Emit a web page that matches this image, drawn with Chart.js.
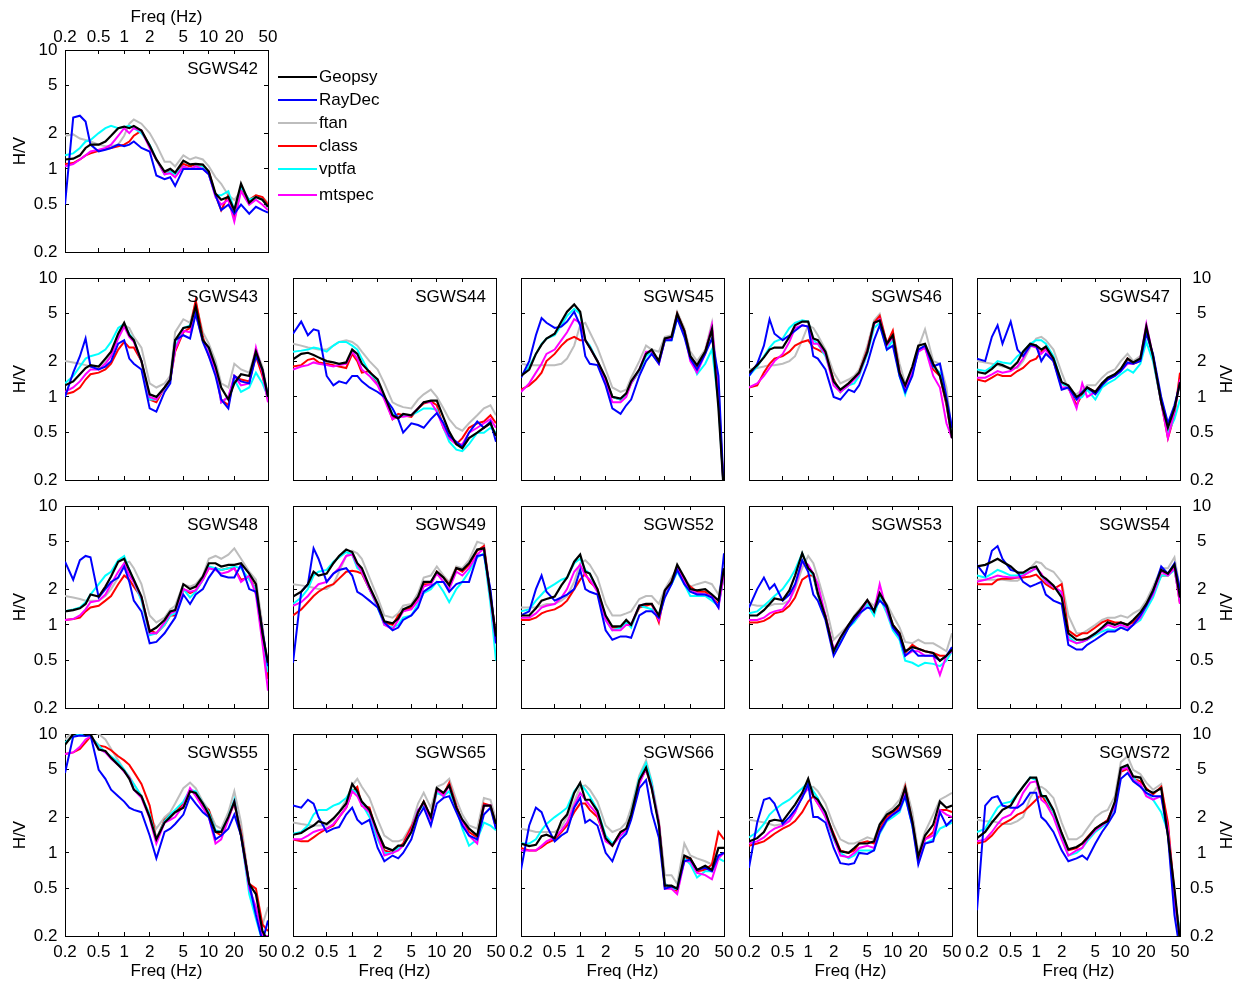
<!DOCTYPE html>
<html>
<head>
<meta charset="utf-8">
<title>H/V spectral ratios</title>
<script src="https://cdn.jsdelivr.net/npm/chart.js@4.4.1/dist/chart.umd.min.js"></script>
<style>
  body { margin: 0; background: #fff; }
  #page { position: relative; width: 1243px; height: 985px; overflow: hidden;
          font-family: "Liberation Sans", Arial, Helvetica, sans-serif; }
  #page canvas { position: absolute; }
  .swatch { position: absolute; width: 39px; height: 2px; }
  .legtext { position: absolute; font-size: 17px; line-height: 20px; color: #000; white-space: nowrap; }
</style>
</head>
<body>
<div id="page"></div>
<script>
// frequencies (Hz) shared by every curve
const freqs = [0.2,0.25,0.3,0.35,0.4,0.5,0.6,0.7, 0.85,1,1.15,1.3,1.6,2,2.4,3,
               3.5,4,5,6,7,8.5,10,12, 14,17,20,24,30,36,43,50];
const xTicks = [0.2, 0.5, 1, 2, 5, 10, 20, 50];
const yTicks = [0.2, 0.5, 1, 2, 5, 10];
const methods = ['Geopsy', 'RayDec', 'ftan', 'class', 'vptfa', 'mtspec'];

// H/V ratio
const sgws42 = {
  Geopsy: [1.2,1.22,1.3,1.5,1.6,1.6,1.7,1.9, 2.2,2.27,2.2,2.3,2.1,1.57,1.2,0.95, 1.0,0.93,1.17,1.09,1.1,1.09,0.95,0.62, 0.55,0.58,0.45,0.75,0.52,0.58,0.55,0.48],
  RayDec: [0.5,2.7,2.8,2.5,1.6,1.4,1.45,1.5, 1.6,1.55,1.6,1.7,1.5,1.4,0.88,0.82, 0.85,0.72,1.0,1.0,1.0,1.0,0.9,0.6, 0.45,0.5,0.42,0.5,0.42,0.48,0.45,0.43],
  ftan:   [1.9,1.95,1.8,1.75,1.7,1.6,1.55,1.55, 1.6,1.9,2.4,2.6,2.4,2.0,1.6,1.15, 1.15,1.05,1.3,1.2,1.25,1.2,1.05,0.85, 0.75,0.6,0.55,0.65,0.55,0.6,0.58,0.52],
  class:  [1.1,1.12,1.2,1.3,1.35,1.42,1.48,1.5, 1.55,1.6,1.7,1.9,2.1,1.55,1.2,0.92, 0.95,0.9,1.1,1.05,1.1,1.05,0.95,0.6, 0.45,0.6,0.38,0.68,0.55,0.6,0.58,0.5],
  vptfa:  [1.3,1.35,1.5,1.7,1.75,2.0,2.2,2.3, 2.2,2.25,2.3,2.2,2.0,1.6,1.2,0.9, 0.95,0.9,1.05,1.0,1.05,1.05,0.9,0.6, 0.6,0.65,0.45,0.7,0.55,0.58,0.55,0.48],
  mtspec: [1.05,1.1,1.2,1.3,1.4,1.45,1.5,1.6, 1.9,2.2,2.0,2.2,2.1,1.5,1.2,0.9, 0.92,0.85,1.05,1.0,1.05,1.0,0.9,0.58, 0.5,0.55,0.36,0.65,0.5,0.55,0.5,0.45]
};
const sgws43 = {
  Geopsy: [1.25,1.35,1.55,1.75,1.85,1.8,2.1,2.4, 3.4,4.2,3.3,3.0,2.0,1.05,1.0,1.2, 1.4,3.0,3.8,3.9,5.8,3.0,2.6,1.8, 1.2,0.95,1.3,1.55,1.5,2.4,1.7,1.0],
  RayDec: [1.0,1.6,2.2,3.1,1.8,1.7,1.8,2.0, 2.8,3.0,2.1,1.9,1.7,0.8,0.75,1.1, 1.3,3.0,3.3,3.1,5.0,2.9,2.2,1.5, 0.95,0.8,1.5,1.35,1.3,2.2,1.7,1.0],
  ftan:   [2.0,1.95,1.9,1.85,1.8,1.8,2.0,2.3, 3.3,4.0,3.8,3.2,2.6,1.3,1.2,1.3, 1.5,3.5,4.5,4.2,6.2,3.5,2.8,2.0, 1.3,1.2,1.9,1.7,1.6,2.5,1.8,1.05],
  class:  [1.05,1.1,1.2,1.4,1.55,1.6,1.7,1.9, 2.5,2.9,2.6,2.6,2.0,0.95,0.9,1.2, 1.4,2.4,3.5,3.8,6.5,3.2,2.2,1.7, 0.95,0.85,1.5,1.4,1.35,2.2,1.5,0.95],
  vptfa:  [1.3,1.5,1.8,2.1,2.2,2.3,2.5,2.9, 3.8,4.1,3.4,3.0,2.0,0.95,0.95,1.2, 1.4,2.6,3.8,4.0,5.5,3.0,2.4,1.8, 0.9,1.0,1.4,1.1,1.2,1.6,1.3,1.0],
  mtspec: [1.1,1.2,1.35,1.55,1.7,1.7,1.9,2.2, 3.1,3.9,3.2,2.9,2.0,1.0,0.95,1.2, 1.4,2.5,3.6,3.5,5.0,3.0,2.3,1.7, 0.9,1.0,1.5,1.25,1.3,2.6,1.6,0.9]
};
const sgws44 = {
  Geopsy: [2.07,2.3,2.35,2.25,2.15,2.0,1.95,1.9, 1.95,2.5,2.3,1.9,1.62,1.4,1.03,0.7, 0.66,0.72,0.7,0.8,0.9,0.93,0.93,0.67, 0.51,0.4,0.37,0.45,0.5,0.55,0.6,0.47],
  RayDec: [3.4,4.3,3.3,3.7,3.6,1.5,1.25,1.35, 1.3,1.5,1.5,1.35,1.2,1.1,1.0,0.8, 0.65,0.5,0.6,0.58,0.55,0.65,0.73,0.6, 0.47,0.42,0.38,0.5,0.62,0.55,0.62,0.42],
  ftan:   [2.8,2.7,2.6,2.55,2.5,2.5,2.7,2.9, 3.0,2.9,2.7,2.4,2.0,1.7,1.3,0.9, 0.85,0.82,0.8,0.95,1.05,1.15,1.0,0.8, 0.65,0.55,0.52,0.6,0.7,0.8,0.85,0.7],
  class:  [1.8,1.85,2.05,2.1,1.95,1.9,1.85,1.8, 1.75,2.3,2.0,1.6,1.65,1.3,1.0,0.65, 0.72,0.7,0.68,0.8,0.88,0.92,0.85,0.55, 0.45,0.4,0.45,0.55,0.6,0.62,0.7,0.6],
  vptfa:  [2.4,2.45,2.5,2.6,2.55,2.4,2.7,2.9, 2.9,2.7,2.5,2.1,1.6,1.35,1.0,0.72, 0.68,0.7,0.7,0.75,0.8,0.8,0.78,0.55, 0.42,0.36,0.35,0.4,0.5,0.5,0.55,0.5],
  mtspec: [1.7,1.8,1.85,1.95,1.9,1.85,1.8,1.85, 1.9,2.4,2.1,1.7,1.5,1.25,0.95,0.65, 0.68,0.68,0.7,0.8,0.9,0.9,0.75,0.55, 0.45,0.4,0.4,0.5,0.55,0.6,0.65,0.55]
};
const sgws45 = {
  Geopsy: [1.5,1.7,2.3,2.75,3.1,3.4,4.3,5.2, 6.0,5.2,3.0,2.6,2.0,1.45,1.0,0.97, 1.07,1.35,1.7,2.3,2.5,2.0,3.1,3.2, 5.0,3.6,2.2,1.85,2.4,3.7,0.8,0.15],
  RayDec: [1.45,2.0,3.3,4.6,4.2,3.8,3.9,4.3, 5.2,4.0,2.2,1.9,1.85,1.25,0.8,0.72, 0.85,0.95,1.5,2.0,2.3,1.9,3.0,3.0, 4.6,3.2,2.1,1.7,2.3,3.1,1.5,0.15],
  ftan:   [1.9,1.85,1.85,1.85,1.85,1.85,1.9,2.1, 2.7,4.0,4.2,3.5,2.6,1.7,1.2,1.1, 1.15,1.45,2.0,2.7,2.5,2.4,3.2,3.3, 5.2,3.8,2.4,2.0,2.5,4.2,1.2,0.15],
  class:  [1.15,1.25,1.4,1.6,2.0,2.3,2.7,3.0, 3.2,3.0,3.0,2.6,2.0,1.4,1.0,0.95, 1.05,1.3,1.65,2.3,2.4,2.0,3.0,3.1, 5.0,3.6,2.2,1.8,2.4,3.8,1.0,0.15],
  vptfa:  [1.5,1.8,2.3,2.8,3.1,3.3,4.0,4.8, 5.5,5.0,3.0,2.7,2.0,1.4,1.0,0.95, 1.05,1.3,1.65,2.2,2.4,1.95,3.0,3.0, 4.6,3.4,2.2,1.55,1.9,2.5,0.9,0.15],
  mtspec: [1.1,1.3,1.6,1.9,2.3,2.5,3.0,3.5, 4.5,4.2,3.0,2.6,2.0,1.35,0.9,0.9, 1.0,1.3,1.7,2.4,2.4,1.9,3.0,3.1, 4.8,3.5,2.0,1.6,2.3,4.0,1.0,0.15]
};
const sgws46 = {
  Geopsy: [1.6,1.85,2.15,2.5,2.6,2.6,3.2,4.0, 4.3,4.3,3.1,3.0,2.4,1.35,1.15,1.3, 1.45,1.6,2.4,4.2,4.4,2.8,3.3,1.6, 1.25,1.8,2.7,2.8,1.9,1.5,0.9,0.45],
  RayDec: [1.5,1.9,2.7,4.5,3.4,3.0,3.3,3.6, 4.0,3.9,2.2,2.1,1.7,1.0,0.95,1.15, 1.1,1.25,1.9,3.0,4.0,2.5,2.7,1.5, 1.1,1.5,2.5,2.7,1.8,1.9,1.0,0.55],
  ftan:   [1.7,1.75,1.8,1.85,1.85,1.9,2.0,2.2, 3.0,4.0,3.8,3.3,2.5,1.6,1.3,1.4, 1.5,1.7,2.7,4.4,5.0,2.8,3.5,1.9, 1.3,1.7,2.6,3.7,2.0,1.9,1.2,0.5],
  class:  [1.2,1.25,1.6,1.9,2.1,2.2,2.4,2.7, 2.9,3.0,2.6,2.5,2.3,1.4,1.1,1.3, 1.45,1.6,2.5,4.2,4.8,2.8,3.6,1.6, 1.15,1.6,2.5,2.6,1.7,1.5,0.85,0.45],
  vptfa:  [1.5,1.8,2.2,2.6,2.9,3.1,3.8,4.2, 4.4,4.3,3.0,2.8,2.2,1.35,1.1,1.25, 1.3,1.5,2.3,3.8,4.2,2.5,3.0,1.5, 1.05,1.6,2.4,2.7,1.8,1.6,0.9,0.45],
  mtspec: [1.2,1.3,1.5,1.75,2.0,2.3,2.9,3.8, 4.0,3.9,2.8,2.8,2.3,1.25,1.1,1.25, 1.4,1.55,2.4,4.1,4.5,2.7,3.2,1.6, 1.15,1.6,2.4,2.6,1.5,1.2,0.6,0.45]
};
const sgws47 = {
  Geopsy: [1.62,1.57,1.72,1.9,1.85,1.72,1.95,2.4, 2.8,2.7,2.5,2.65,2.1,1.33,1.25,1.0, 1.07,1.2,1.1,1.3,1.45,1.55,1.72,2.1, 1.95,2.1,3.9,2.2,0.9,0.55,0.8,1.33],
  RayDec: [2.1,2.0,3.2,4.0,2.8,4.3,2.5,2.2, 2.7,2.7,2.0,2.3,2.0,1.15,1.2,0.95, 1.1,1.2,1.05,1.25,1.4,1.5,1.65,1.95, 1.9,2.0,3.4,2.3,1.0,0.6,0.85,1.3],
  ftan:   [2.0,1.95,1.9,1.85,1.8,1.75,1.75,2.0, 2.6,3.1,3.2,3.0,2.5,1.6,1.15,1.05, 1.15,1.25,1.25,1.45,1.6,1.7,2.0,2.3, 2.0,2.2,3.5,2.2,0.95,0.6,0.8,1.3],
  class:  [1.4,1.35,1.45,1.55,1.5,1.5,1.65,1.75, 2.0,2.1,2.4,2.6,2.0,1.3,1.2,0.85, 1.05,1.2,1.1,1.25,1.4,1.55,1.7,2.1, 1.9,2.0,3.8,2.1,0.9,0.45,0.7,1.6],
  vptfa:  [1.7,1.65,1.8,2.0,1.95,1.9,2.2,2.4, 2.8,3.0,3.0,2.8,2.2,1.3,1.2,0.95, 1.0,1.15,0.95,1.2,1.3,1.4,1.55,1.7, 1.6,1.9,2.9,2.0,0.9,0.5,0.65,0.95],
  mtspec: [1.45,1.45,1.55,1.65,1.6,1.65,1.8,2.1, 2.7,2.6,2.3,2.5,2.0,1.2,1.2,0.8, 1.3,1.0,1.1,1.3,1.4,1.5,1.65,1.9, 1.9,2.1,4.1,2.2,0.9,0.45,0.75,1.4]
};
const sgws48 = {
  Geopsy: [1.3,1.33,1.38,1.5,1.8,1.73,2.1,2.55, 3.4,3.6,2.9,2.4,1.73,0.88,0.95,1.1, 1.3,1.33,2.2,2.0,2.1,2.55,3.3,3.3, 3.1,3.2,3.2,3.3,2.7,2.2,0.85,0.48],
  RayDec: [3.4,2.4,3.5,3.8,3.7,1.7,2.0,2.3, 2.5,3.1,2.3,1.6,1.3,0.7,0.72,0.85, 1.0,1.15,1.8,1.5,1.8,2.0,2.5,3.0, 2.6,2.5,2.5,3.2,2.0,1.9,0.9,0.45],
  ftan:   [1.75,1.7,1.65,1.6,1.6,1.6,1.75,2.0, 2.5,3.3,3.4,3.0,2.2,1.2,1.05,1.15, 1.35,1.45,2.2,2.1,2.2,2.6,3.6,3.8, 3.6,3.9,4.4,3.6,2.8,2.4,1.0,0.4],
  class:  [1.1,1.12,1.15,1.3,1.4,1.45,1.6,1.75, 2.2,2.6,2.4,2.1,1.7,0.9,0.85,1.0, 1.2,1.2,2.0,1.85,1.95,2.4,3.0,3.0, 2.9,3.0,3.0,2.4,2.5,2.0,0.9,0.35],
  vptfa:  [1.3,1.35,1.4,1.55,1.8,2.2,2.6,2.8, 3.5,3.8,2.9,2.3,1.6,0.82,0.85,1.0, 1.2,1.25,2.0,1.7,1.9,2.4,3.1,3.0, 2.9,3.0,3.1,3.0,2.4,2.0,0.85,0.4],
  mtspec: [1.1,1.12,1.2,1.35,1.55,1.6,1.8,2.2, 2.8,3.3,2.6,2.3,1.7,0.85,0.85,1.05, 1.25,1.3,2.0,1.9,1.95,2.4,3.0,2.9, 2.7,2.8,3.0,2.3,2.6,1.8,0.7,0.28]
};
const sgws49 = {
  Geopsy: [1.73,1.9,2.2,2.8,2.6,2.7,3.3,3.8, 4.3,4.1,3.3,3.0,2.1,1.5,1.07,1.03, 1.13,1.35,1.45,1.73,2.3,2.3,2.8,2.5, 2.15,3.0,2.9,3.3,4.3,4.4,1.75,0.8],
  RayDec: [0.48,1.9,2.2,4.4,3.6,2.3,2.7,2.9, 3.0,2.6,1.9,1.8,1.6,1.4,1.05,0.9, 0.95,1.1,1.2,1.4,1.9,2.1,2.3,2.3, 1.9,2.2,2.3,2.3,3.8,3.9,2.0,0.7],
  ftan:   [2.2,2.15,2.1,2.05,2.0,2.0,2.2,2.8, 3.8,4.2,4.0,3.6,2.5,1.7,1.2,1.15, 1.25,1.45,1.5,1.85,2.5,2.6,3.1,2.6, 2.3,3.1,3.0,3.5,5.0,4.8,1.8,0.8],
  class:  [1.2,1.35,1.55,1.75,1.9,2.1,2.2,2.45, 2.8,2.85,2.8,2.7,2.0,1.45,1.05,1.0, 1.2,1.3,1.4,1.7,2.2,2.2,2.8,2.5, 2.2,3.0,2.8,3.2,4.2,4.6,1.8,0.8],
  vptfa:  [1.5,1.7,2.0,2.6,2.8,2.9,3.4,3.7, 4.1,3.9,3.0,2.8,2.0,1.4,1.0,0.95, 1.0,1.15,1.2,1.5,1.85,2.0,2.3,1.9, 1.55,2.0,2.3,2.8,3.7,4.0,1.5,0.5],
  mtspec: [1.45,1.55,1.75,2.0,2.2,2.3,2.7,3.0, 3.8,3.9,3.2,2.8,2.0,1.45,1.0,0.92, 1.1,1.3,1.35,1.6,2.1,2.2,2.7,2.3, 2.0,2.8,2.6,3.0,3.9,4.4,1.7,0.7]
};
const sgws52 = {
  Geopsy: [1.2,1.2,1.38,1.6,1.65,1.73,2.15,2.5, 3.4,3.9,2.8,2.7,2.0,1.2,0.97,0.97, 1.1,1.0,1.45,1.5,1.5,1.2,1.95,2.3, 3.2,2.5,2.0,1.95,2.0,1.8,1.6,3.0],
  RayDec: [1.2,1.3,2.0,2.6,1.9,1.6,1.7,1.8, 2.0,2.9,2.0,1.9,1.8,0.9,0.75,0.8, 0.8,0.78,1.2,1.3,1.3,1.15,1.7,2.2, 2.9,2.2,1.9,1.8,1.8,1.7,1.4,4.0],
  ftan:   [1.4,1.4,1.4,1.45,1.5,1.5,1.6,1.75, 2.3,3.3,3.5,3.2,2.5,1.5,1.2,1.2, 1.25,1.3,1.65,1.75,1.75,1.5,2.0,2.5, 3.0,2.5,2.1,2.2,2.3,2.2,1.8,2.8],
  class:  [1.1,1.1,1.15,1.25,1.3,1.35,1.45,1.6, 2.0,2.4,2.7,2.3,2.0,1.15,0.95,0.95, 1.05,1.0,1.4,1.45,1.5,1.05,1.9,2.3, 3.1,2.3,2.1,1.9,1.9,1.7,1.5,2.6],
  vptfa:  [1.3,1.35,1.6,1.8,2.0,2.2,2.4,2.5, 3.3,3.6,2.9,2.7,1.9,1.1,0.9,0.95, 1.05,0.95,1.45,1.4,1.35,1.2,1.85,2.2, 2.8,2.2,1.75,1.75,1.75,1.6,1.45,2.6],
  mtspec: [1.15,1.15,1.25,1.4,1.45,1.5,1.7,2.0, 2.8,3.2,2.6,2.4,1.9,1.1,0.9,0.9, 1.0,1.0,1.45,1.5,1.5,1.1,1.9,2.3, 3.0,2.3,2.0,1.85,1.8,1.75,1.4,2.7]
};
const sgws53 = {
  Geopsy: [1.2,1.2,1.33,1.5,1.67,1.62,1.95,2.6, 4.0,3.0,2.7,1.85,1.17,0.6,0.78,1.0, 1.17,1.3,1.62,1.3,1.85,1.45,1.0,0.85, 0.6,0.65,0.63,0.6,0.58,0.5,0.55,0.62],
  RayDec: [1.4,2.0,2.5,2.0,2.2,1.6,1.8,2.2, 3.5,2.8,1.8,1.6,1.1,0.55,0.7,0.95, 1.1,1.25,1.4,1.35,1.6,1.4,0.95,0.8, 0.55,0.62,0.55,0.55,0.55,0.5,0.55,0.65],
  ftan:   [1.5,1.45,1.45,1.45,1.5,1.5,1.6,2.0, 3.0,3.8,3.3,2.5,1.5,0.75,0.85,1.0, 1.2,1.35,1.6,1.45,1.8,1.5,1.2,0.95, 0.72,0.7,0.75,0.7,0.7,0.65,0.6,0.85],
  class:  [1.05,1.05,1.08,1.15,1.25,1.3,1.45,1.7, 2.4,2.6,2.6,1.8,1.2,0.6,0.75,0.95, 1.15,1.3,1.6,1.3,1.8,1.4,1.0,0.85, 0.58,0.68,0.63,0.6,0.58,0.55,0.55,0.6],
  vptfa:  [1.25,1.3,1.45,1.6,1.75,2.0,2.4,2.9, 4.0,3.0,2.6,1.8,1.15,0.6,0.72,0.95, 1.05,1.2,1.5,1.2,1.7,1.25,0.9,0.75, 0.5,0.48,0.45,0.48,0.47,0.45,0.5,0.6],
  mtspec: [1.1,1.1,1.15,1.25,1.3,1.35,1.6,2.1, 3.4,3.2,2.7,2.2,1.2,0.62,0.78,1.0, 1.1,1.2,1.6,1.3,2.2,1.3,0.95,0.8, 0.55,0.6,0.6,0.55,0.55,0.38,0.55,0.6]
};
const sgws54 = {
  Geopsy: [3.1,3.2,3.4,3.6,3.4,3.1,2.75,2.75, 3.0,3.1,2.6,2.45,2.15,1.7,0.85,0.75, 0.75,0.77,0.85,0.95,1.05,1.0,1.05,1.0, 1.1,1.27,1.5,1.95,2.9,2.7,3.2,1.7],
  RayDec: [3.2,2.6,4.2,4.6,3.6,2.9,2.8,2.3, 2.1,2.2,2.3,1.8,1.6,1.5,0.68,0.62, 0.62,0.68,0.75,0.82,0.88,0.88,0.95,0.9, 1.0,1.2,1.45,1.9,3.1,2.7,3.3,2.0],
  ftan:   [2.4,2.4,2.4,2.4,2.4,2.35,2.35,2.5, 3.0,3.4,3.3,3.0,2.8,2.3,1.2,0.85, 0.85,0.9,1.0,1.1,1.15,1.15,1.2,1.15, 1.25,1.35,1.6,2.1,3.0,3.0,3.7,2.0],
  class:  [2.2,2.2,2.2,2.4,2.45,2.45,2.5,2.5, 2.55,2.65,2.4,2.2,2.0,2.2,0.9,0.8, 0.85,0.85,0.95,1.05,1.1,1.05,1.05,1.0, 1.05,1.2,1.5,1.85,2.6,2.6,3.0,1.5],
  vptfa:  [2.6,2.5,2.7,2.9,2.8,2.6,2.6,2.7, 2.8,3.0,2.6,2.3,2.1,1.8,0.8,0.7, 0.72,0.75,0.82,0.88,0.92,0.9,0.95,0.95, 1.0,1.1,1.35,1.7,2.6,2.6,2.9,1.6],
  mtspec: [2.3,2.4,2.5,2.6,2.55,2.5,2.5,2.6, 2.8,3.0,2.7,2.3,2.1,1.9,0.75,0.7, 0.72,0.75,0.85,0.92,1.0,0.95,1.0,0.95, 1.0,1.15,1.45,1.8,2.8,2.6,3.0,1.5]
};
const sgws55 = {
  Geopsy: [8.1,10,10.5,9.9,10,7.4,7.2,6.3, 5.5,4.9,4.2,3.4,3.0,2.0,1.3,1.8, 2.0,2.2,2.4,3.3,3.2,2.6,2.1,1.5, 1.5,2.0,2.7,1.4,0.55,0.45,0.22,0.18],
  RayDec: [4.7,9.5,9.7,9.6,9.8,5.0,4.2,3.4, 3.0,2.7,2.4,2.3,2.2,1.4,0.9,1.5, 1.6,1.75,2.1,3.0,2.6,2.2,2.0,1.3, 1.4,1.6,2.1,1.4,0.55,0.3,0.18,0.27],
  ftan:   [9,10.5,11,11,10.5,10,9,7.5, 6.0,5.0,4.4,3.8,3.0,2.1,1.6,2.0, 2.2,2.6,3.5,3.9,3.5,2.7,2.3,1.7, 1.6,2.2,3.3,1.8,0.55,0.32,0.25,0.35],
  class:  [6.8,7.0,7.5,8.5,9.5,8.0,7.8,7.3, 6.5,6.0,5.5,4.8,3.8,2.5,1.3,1.9, 2.1,2.2,2.6,3.3,3.2,2.5,2.3,1.5, 1.4,2.0,2.6,1.5,0.55,0.5,0.25,0.22],
  vptfa:  [8.5,9.5,10,9.8,9.5,8.0,7.0,6.5, 5.8,5.0,4.3,3.8,3.0,2.1,1.3,1.85, 2.1,2.3,2.7,3.4,3.3,2.6,2.2,1.55, 1.5,2.0,2.8,1.4,0.45,0.28,0.18,0.17],
  mtspec: [6.8,7.0,7.8,9.0,9.5,7.5,7.0,6.2, 5.5,4.8,4.3,3.4,2.9,1.95,1.2,1.8, 1.9,2.0,2.5,3.5,3.0,2.4,2.0,1.2, 1.3,1.9,2.7,1.4,0.5,0.35,0.2,0.2]
};
const sgws65 = {
  Geopsy: [1.42,1.47,1.6,1.7,1.85,1.75,1.95,2.2, 2.6,3.8,3.3,2.7,2.3,1.5,1.12,1.05, 1.15,1.15,1.5,2.2,2.7,2.0,3.5,3.2, 3.7,2.4,1.9,1.6,1.4,2.5,2.5,1.75],
  RayDec: [2.5,2.4,2.8,2.6,2.0,1.5,1.6,1.65, 2.1,2.4,1.9,1.75,1.9,1.1,0.85,0.95, 0.9,1.0,1.3,2.0,2.4,1.7,2.6,2.9, 3.0,2.2,1.7,1.4,1.3,2.1,2.4,1.6],
  ftan:   [1.8,1.75,1.72,1.7,1.7,1.7,1.9,2.2, 2.8,3.7,4.2,3.6,2.9,1.9,1.4,1.25, 1.25,1.3,1.7,2.6,3.2,2.4,3.6,3.8, 4.2,2.8,2.1,1.7,1.6,2.9,2.8,1.9],
  class:  [1.3,1.25,1.25,1.35,1.45,1.6,1.7,2.0, 2.4,3.3,3.6,2.5,2.4,1.4,1.05,1.0, 1.1,1.2,1.65,2.2,2.7,2.0,3.4,3.1, 3.9,2.5,1.8,1.5,1.35,2.6,2.5,1.7],
  vptfa:  [1.45,1.5,1.7,2.1,2.3,2.3,2.5,2.6, 2.9,3.4,3.2,2.6,2.0,1.3,1.0,1.0, 1.1,1.15,1.5,2.3,2.5,2.0,3.2,3.0, 3.3,2.4,1.6,1.15,1.3,1.8,1.7,1.55],
  mtspec: [1.3,1.3,1.4,1.5,1.55,1.6,1.75,2.0, 2.4,3.3,3.0,2.5,2.2,1.4,0.95,1.0, 1.05,1.15,1.55,2.3,2.6,1.9,3.4,3.0, 3.7,2.4,1.8,1.4,1.2,2.5,2.5,1.6]
};
const sgws66 = {
  Geopsy: [1.2,1.14,1.17,1.38,1.42,1.33,1.85,2.1, 3.2,3.9,2.8,2.8,2.25,1.33,1.15,1.5, 1.6,2.1,4.1,5.2,3.5,1.72,0.53,0.53, 0.5,0.95,0.9,0.72,0.78,0.72,1.1,1.1],
  RayDec: [0.72,1.7,2.4,2.2,1.7,1.25,1.4,1.5, 2.4,2.9,1.8,1.9,1.7,1.0,0.85,1.3, 1.45,1.9,3.5,4.1,2.2,1.35,0.5,0.52, 0.5,0.85,0.88,0.72,0.75,0.7,0.95,1.0],
  ftan:   [1.6,1.55,1.5,1.5,1.5,1.5,1.65,2.0, 2.7,3.6,3.7,3.4,2.7,1.7,1.5,1.6, 1.8,2.4,4.5,6.0,4.0,1.9,0.65,0.65, 0.55,1.2,0.95,0.9,0.85,0.8,1.1,1.1],
  class:  [1.1,1.05,1.05,1.12,1.2,1.3,1.5,1.7, 2.2,2.6,2.6,2.3,2.0,1.3,1.15,1.5, 1.55,2.0,4.0,5.0,3.5,1.8,0.55,0.5, 0.48,0.9,0.9,0.7,0.72,0.8,1.5,1.3],
  vptfa:  [1.2,1.2,1.3,1.55,1.75,2.0,2.2,2.4, 3.3,3.8,3.4,3.0,2.3,1.4,1.2,1.4, 1.5,2.1,4.3,5.7,3.9,1.7,0.55,0.5, 0.5,0.9,0.8,0.62,0.7,0.7,0.9,0.85],
  mtspec: [1.05,1.05,1.05,1.15,1.25,1.35,1.55,1.8, 2.5,3.2,2.8,2.5,2.1,1.25,1.15,1.4, 1.55,2.0,3.8,5.1,3.6,1.8,0.5,0.5, 0.45,0.85,0.85,0.68,0.65,0.6,0.9,1.0]
};
const sgws69 = {
  Geopsy: [1.25,1.33,1.5,1.85,1.9,1.85,2.2,2.55, 3.2,4.2,3.0,2.8,2.2,1.4,1.03,1.0, 1.1,1.2,1.2,1.25,1.73,2.1,2.25,2.55, 3.5,1.85,0.93,1.4,1.73,2.7,2.4,2.5],
  RayDec: [0.75,1.8,2.8,2.9,2.6,1.75,2.0,2.3, 2.9,3.8,2.0,2.0,1.8,1.1,0.82,0.8, 0.82,1.0,0.98,1.05,1.5,1.9,2.1,2.3, 3.0,1.7,0.8,1.2,1.25,2.2,1.7,1.9],
  ftan:   [1.9,1.85,1.8,1.75,1.7,1.75,1.85,2.2, 3.0,3.5,3.6,3.3,2.6,1.7,1.3,1.2, 1.2,1.25,1.35,1.3,1.75,2.2,2.4,2.8, 3.8,2.2,1.0,1.5,2.1,2.8,3.0,3.2],
  class:  [1.15,1.2,1.25,1.35,1.45,1.6,1.7,1.85, 2.2,2.7,3.0,2.6,2.1,1.45,1.05,1.0, 1.05,1.2,1.25,1.2,1.6,2.0,2.2,2.4, 3.6,1.8,0.9,1.3,1.5,2.3,2.3,2.2],
  vptfa:  [1.35,1.5,1.75,2.1,2.3,2.6,2.8,3.1, 3.5,3.9,3.3,2.9,2.0,1.3,1.0,0.9, 0.95,1.05,1.05,1.05,1.45,1.85,2.0,2.2, 3.0,1.7,0.88,1.2,1.3,1.6,1.7,1.8],
  mtspec: [1.2,1.25,1.35,1.5,1.6,1.7,1.85,2.2, 3.0,3.5,3.0,2.6,2.0,1.35,0.95,0.92, 1.0,1.1,1.15,1.1,1.5,1.9,2.1,2.3, 3.2,1.8,0.85,1.3,1.4,2.3,2.1,2.0]
};
const sgws72 = {
  Geopsy: [1.33,1.5,1.8,2.05,2.3,2.5,3.1,3.6, 4.3,4.3,3.0,3.0,2.3,1.47,1.07,1.12, 1.2,1.33,1.6,1.75,1.85,2.7,5.2,5.5, 4.4,4.3,3.4,3.2,3.5,1.4,0.5,0.18],
  RayDec: [0.33,2.5,2.9,3.0,2.5,2.4,2.4,2.6, 3.2,3.2,2.0,1.85,1.5,1.05,0.85,0.9, 0.95,0.88,1.2,1.5,1.75,2.2,4.2,4.7, 4.0,3.6,3.2,3.0,3.0,1.4,0.3,0.15],
  ftan:   [1.9,1.85,1.85,1.8,1.75,1.75,1.85,2.0, 2.9,3.5,3.6,3.4,2.9,1.8,1.3,1.3, 1.4,1.6,2.0,2.2,2.3,3.0,5.8,6.5, 5.0,4.6,3.9,3.4,3.8,1.6,0.35,0.18],
  class:  [1.2,1.25,1.4,1.6,1.75,1.9,2.1,2.2, 2.5,2.8,3.1,2.7,2.2,1.45,1.05,1.1, 1.2,1.35,1.6,1.75,1.9,2.6,4.8,5.1, 4.2,4.0,3.5,3.1,3.6,1.8,0.45,0.2],
  vptfa:  [1.5,1.6,2.0,2.4,2.6,2.7,3.1,3.6, 4.3,4.1,3.1,2.9,2.2,1.35,0.95,1.0, 1.1,1.25,1.5,1.65,1.8,2.4,5.0,5.4, 4.3,3.7,3.2,2.8,2.2,1.5,0.4,0.22],
  mtspec: [1.25,1.3,1.5,1.75,1.95,2.1,2.5,3.2, 3.9,4.0,2.8,2.6,2.0,1.3,0.95,1.05, 1.1,1.3,1.55,1.7,1.85,2.5,5.0,5.2, 4.1,3.8,3.0,2.8,3.0,1.6,0.4,0.2]
};

const stations = [
  ['SGWS42', sgws42],
  ['SGWS43', sgws43], ['SGWS44', sgws44], ['SGWS45', sgws45], ['SGWS46', sgws46], ['SGWS47', sgws47],
  ['SGWS48', sgws48], ['SGWS49', sgws49], ['SGWS52', sgws52], ['SGWS53', sgws53], ['SGWS54', sgws54],
  ['SGWS55', sgws55], ['SGWS65', sgws65], ['SGWS66', sgws66], ['SGWS69', sgws69], ['SGWS72', sgws72]
];

// styles
const lineColors = { Geopsy: '#000000', RayDec: '#0000ff', ftan: '#bdbdbd', class: '#ff0000', vptfa: '#00ffff', mtspec: '#ff00ff' };
const drawOrder = { Geopsy: 0, RayDec: 1, mtspec: 2, vptfa: 3, class: 4, ftan: 5 };
const FONT = { family: '"Liberation Sans", Arial, Helvetica, sans-serif', size: 17 };
Chart.defaults.font.family = FONT.family;
Chart.defaults.font.size = FONT.size;
Chart.defaults.color = '#000';

const BOX = { top: 45, bottom: 48, left: 60, right: 60 };
const PW = 203, PH = 202;

function logAxis(position, min, max, values, o) {
  const horizontal = position === 'top' || position === 'bottom';
  return {
    type: 'logarithmic',
    position: position,
    min: min, max: max,
    bounds: 'data',
    afterBuildTicks: s => { s.ticks = values.map(v => ({ value: v })); },
    afterFit: s => {
      if (horizontal) s.height = BOX[position]; else s.width = BOX[position];
      s.paddingLeft = 0; s.paddingRight = 0; s.paddingTop = 0; s.paddingBottom = 0;
    },
    grid: { display: true, drawOnChartArea: false, drawTicks: true, tickLength: -4, color: '#000', lineWidth: 1 },
    border: { display: true, color: '#000', width: 1 },
    ticks: {
      display: !!o.labels, autoSkip: false, maxRotation: 0, minRotation: 0,
      padding: o.pad, crossAlign: position === 'right' ? 'center' : 'near',
      color: '#000', font: FONT, callback: v => String(v)
    },
    title: { display: !!o.title, text: o.title || '', color: '#000', font: FONT, padding: o.titlePad || 0 }
  };
}

// station name inside the frame, and the right-hand "H/V" label read bottom-up
const panelText = {
  id: 'panelText',
  afterDraw(chart, args, opts) {
    const { ctx, chartArea: a } = chart;
    ctx.save();
    ctx.font = '17px ' + FONT.family;
    ctx.fillStyle = '#000';
    ctx.textAlign = 'right';
    ctx.textBaseline = 'middle';
    ctx.fillText(opts.name, a.right - 10, a.top + 19.5);
    if (opts.rightTitle) {
      ctx.translate(a.right + 47, (a.top + a.bottom) / 2);
      ctx.rotate(-Math.PI / 2);
      ctx.textAlign = 'center';
      ctx.fillText('H/V', 0, 0);
    }
    ctx.restore();
  }
};

const page = document.getElementById('page');

stations.forEach(([name, hv], k) => {
  const row = k === 0 ? 0 : 1 + Math.floor((k - 1) / 5);
  const col = k === 0 ? 0 : (k - 1) % 5;
  const left = 65 + col * 228, top = 50 + row * 228;

  const cv = document.createElement('canvas');
  cv.width = PW + BOX.left + BOX.right;
  cv.height = PH + BOX.top + BOX.bottom;
  cv.style.left = (left - BOX.left) + 'px';
  cv.style.top = (top - BOX.top) + 'px';
  page.appendChild(cv);

  const bottomRow = row === 3, firstCol = col === 0, lastCol = col === 4;

  new Chart(cv, {
    type: 'line',
    data: {
      datasets: methods.map(m => ({
        label: m,
        data: freqs.map((f, i) => ({ x: f, y: hv[m][i] })),
        borderColor: lineColors[m],
        borderWidth: m === 'Geopsy' ? 2.2 : 2,
        pointRadius: 0,
        tension: 0,
        fill: false,
        order: drawOrder[m],
        xAxisID: 'x',
        yAxisID: 'y'
      }))
    },
    options: {
      responsive: false,
      animation: false,
      events: [],
      layout: { padding: 0 },
      plugins: {
        legend: { display: false },
        tooltip: { enabled: false },
        panelText: { name: name, rightTitle: lastCol }
      },
      scales: {
        x: logAxis('bottom', 0.2, 50, xTicks, { labels: bottomRow, pad: 10, title: bottomRow ? 'Freq (Hz)' : '', titlePad: { bottom: 2 } }),
        xTop: logAxis('top', 0.2, 50, xTicks, { labels: k === 0, pad: 6, title: k === 0 ? 'Freq (Hz)' : '', titlePad: { top: 2 } }),
        y: logAxis('left', 0.2, 10, yTicks, { labels: firstCol, pad: 11.5, title: firstCol ? 'H/V' : '', titlePad: { top: 5 } }),
        yRight: logAxis('right', 0.2, 10, yTicks, { labels: lastCol, pad: 14 })
      }
    },
    plugins: [panelText]
  });
});

// legend beside the first panel
const legendRows = [77, 99.5, 122.5, 145.5, 168.5, 194.5];
methods.forEach((m, i) => {
  const sw = document.createElement('div');
  sw.className = 'swatch';
  sw.style.left = '278px';
  sw.style.top = (legendRows[i] - 1) + 'px';
  sw.style.background = lineColors[m];
  page.appendChild(sw);
  const tx = document.createElement('div');
  tx.className = 'legtext';
  tx.style.left = '319px';
  tx.style.top = (legendRows[i] - 10) + 'px';
  tx.textContent = m;
  page.appendChild(tx);
});
</script>
</body>
</html>
